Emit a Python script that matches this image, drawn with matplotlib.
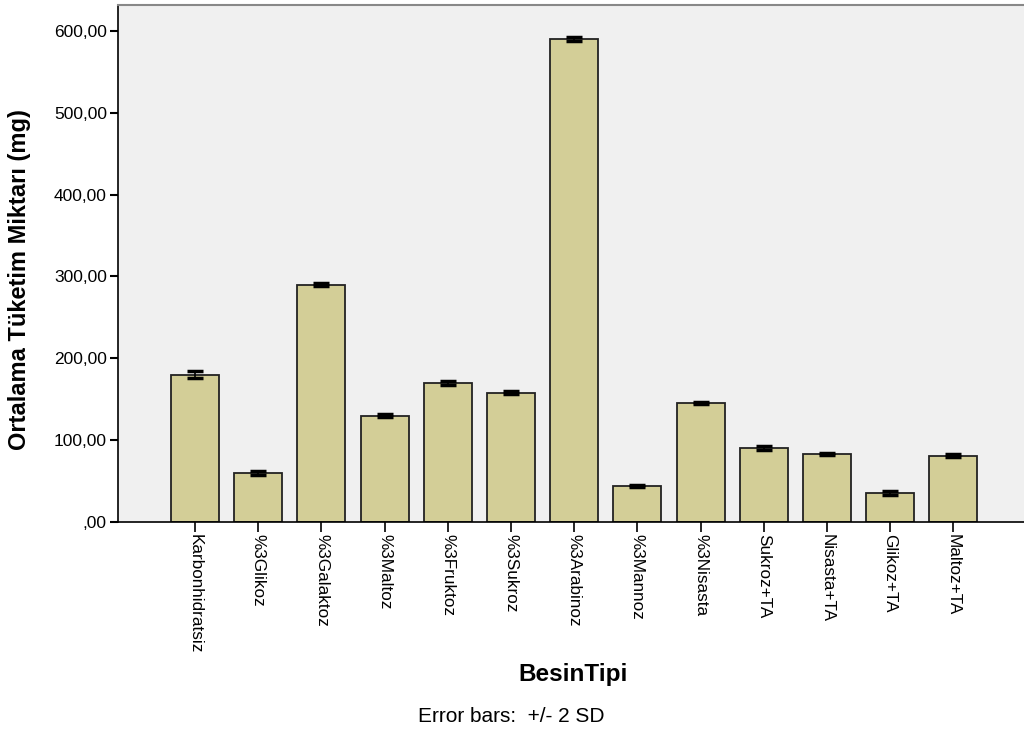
#mean consumption per food type, SPSS style bar chart with +/- 2 SD error bars

import matplotlib
matplotlib.use('Agg')
import matplotlib.pyplot as plt
from matplotlib.ticker import FuncFormatter
import numpy as np

plt.rcParams['font.family'] = ['Liberation Sans', 'DejaVu Sans']

besin = ['Karbonhidratsiz', '%3Glikoz', '%3Galaktoz', '%3Maltoz', '%3Fruktoz',
         '%3Sukroz', '%3Arabinoz', '%3Mannoz', '%3Nisasta', 'Sukroz+TA',
         'Nisasta+TA', 'Glikoz+TA', 'Maltoz+TA']
ortalama = [180, 60, 290, 130, 170, 158, 590, 44, 145.5, 90.5, 83, 35.5, 81]
sd2 = [4, 2, 2, 2, 2, 1.5, 2, 1, 1.5, 2, 1.5, 2, 1.5]

bar_col = '#d3ce97'
bg_col = '#f0f0f0'

fig = plt.figure(figsize=(10.24, 7.32), dpi=100)
ax = fig.add_axes([118/1024., 210/732., 906/1024., 517/732.])
ax.set_facecolor(bg_col)

x = np.arange(len(besin))
ax.bar(x, ortalama, width=0.76, color=bar_col, edgecolor='#222222', linewidth=1.3, zorder=2)
ax.errorbar(x, ortalama, yerr=sd2, fmt='none', ecolor='black', elinewidth=1.2,
            capsize=5.5, capthick=2.5, zorder=3)

ax.set_xlim(-1.22, 13.12)
ax.set_ylim(0, 631.7)

ax.set_yticks([0, 100, 200, 300, 400, 500, 600])
ax.yaxis.set_major_formatter(FuncFormatter(lambda v, p: ('%.2f' % v).replace('.', ',').lstrip('0')))
ax.set_xticks(x)
ax.set_xticklabels(besin, rotation=-90, fontsize=12.3)
ax.tick_params(axis='y', labelsize=12.5, length=6, width=1.5, direction='out', pad=2)
ax.tick_params(axis='x', length=7, width=1.2, direction='out', pad=2)

ax.spines['right'].set_visible(False)
ax.spines['top'].set_color('#888888')
ax.spines['top'].set_linewidth(1.5)
ax.spines['left'].set_linewidth(1.2)
ax.spines['bottom'].set_linewidth(1.2)

fig.text(20/1024., 1 - 280/732., 'Ortalama Tüketim Miktarı (mg)', rotation=90, fontsize=17,
         fontweight='bold', ha='center', va='center')
fig.text(573/1024., 1 - 675/732., 'BesinTipi', fontsize=17.5, fontweight='bold',
         ha='center', va='center')
fig.text(511/1024., 1 - 717/732., 'Error bars:  +/- 2 SD', fontsize=15,
         ha='center', va='center')

plt.savefig('out.png', dpi=100, facecolor='white')
plt.close()
